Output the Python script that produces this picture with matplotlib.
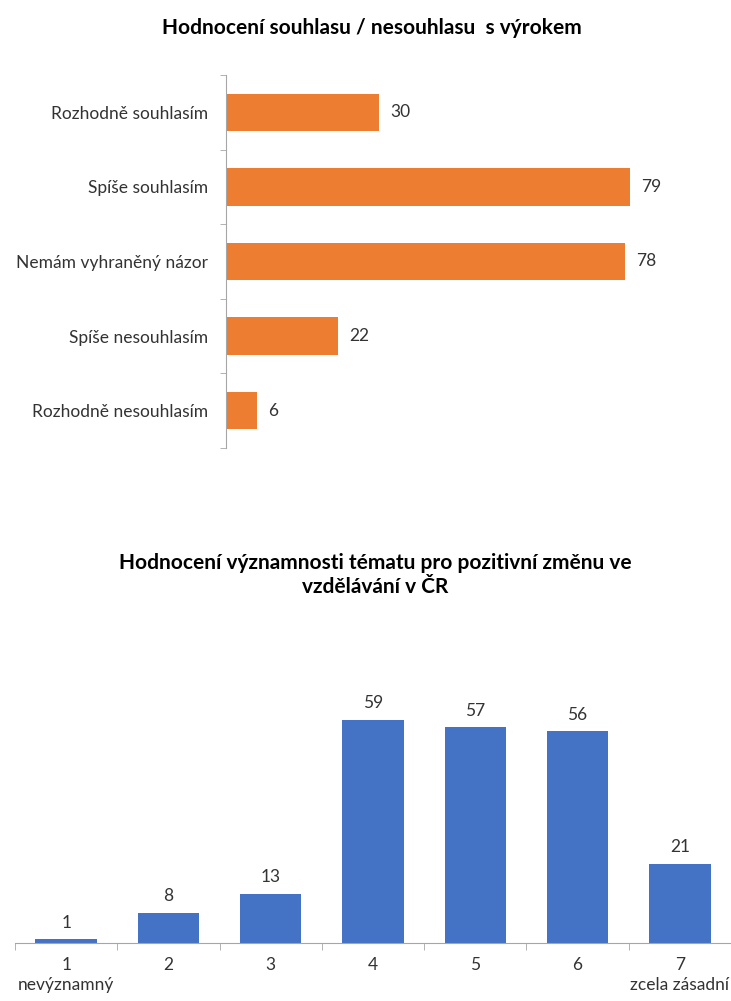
import matplotlib
matplotlib.use("Agg")
import matplotlib.pyplot as plt
import numpy as np

plt.rcParams['font.family'] = ['Lato', 'DejaVu Sans']

# top chart: agreement with the statement
agree_labels = ["Rozhodně souhlasím", "Spíše souhlasím", "Nemám vyhraněný názor",
                "Spíše nesouhlasím", "Rozhodně nesouhlasím"]
agree_counts = [30, 79, 78, 22, 6]

# bottom chart: importance rating 1..7
rating_ticks = ["1\nnevýznamný", "2", "3", "4", "5", "6", "7\nzcela zásadní"]
rating_counts = [1, 8, 13, 59, 57, 56, 21]

ORANGE = '#ED7D31'
BLUE = '#4472C4'
AXIS_GREY = '#A6A6A6'
TEXT = '#333333'
FS = 12.5
TITLE_FS = 15

W, H = 731, 1001
fig = plt.figure(figsize=(W / 100, H / 100), dpi=100)

def frac(x0, y0, x1, y1):
    """pixel box (top-left origin) -> figure fraction rect"""
    return [x0 / W, 1 - y1 / H, (x1 - x0) / W, (y1 - y0) / H]

# ---- top chart ----
ax1 = fig.add_axes(frac(226, 75, 686, 448))
ypos = np.arange(len(agree_labels))
ax1.barh(ypos, agree_counts, height=0.5, color=ORANGE)
ax1.set_xlim(0, 90)
ax1.set_ylim(len(agree_labels) - 0.5, -0.5)
ax1.set_yticks(ypos)
ax1.set_yticklabels(agree_labels, fontsize=FS, color=TEXT)
ax1.set_yticks(np.arange(-0.5, len(agree_labels)), minor=True)
ax1.tick_params(axis='y', which='major', length=0, pad=13)
ax1.tick_params(axis='y', which='minor', length=4, color=AXIS_GREY, direction='out')
ax1.set_xticks([])
for s in ['top', 'right', 'bottom']:
    ax1.spines[s].set_visible(False)
ax1.spines['left'].set_color(AXIS_GREY)
for y, v in zip(ypos, agree_counts):
    ax1.annotate(str(v), (v, y), xytext=(8, 0), textcoords='offset points',
                 ha='left', va='center', fontsize=FS, color=TEXT)

fig.text(372 / W, 1 - 28 / H, "Hodnocení souhlasu / nesouhlasu  s výrokem",
         ha='center', va='center', fontsize=TITLE_FS, fontweight='bold', color='black')

# ---- bottom chart ----
ax2 = fig.add_axes(frac(15, 678, 731, 943))
xpos = np.arange(len(rating_counts))
ax2.bar(xpos, rating_counts, width=0.6, color=BLUE)
ax2.set_xlim(-0.5, len(rating_counts) - 0.5)
ax2.set_ylim(0, 70)
ax2.set_xticks(xpos)
ax2.set_xticklabels(rating_ticks, fontsize=FS, color=TEXT, linespacing=1.3, va='top')
ax2.set_xticks(np.arange(-0.5, len(rating_counts)), minor=True)
ax2.tick_params(axis='x', which='major', length=0, pad=10)
ax2.tick_params(axis='x', which='minor', length=5, color=AXIS_GREY, direction='out')
ax2.set_yticks([])
for s in ['top', 'right', 'left']:
    ax2.spines[s].set_visible(False)
ax2.spines['bottom'].set_color(AXIS_GREY)
for x, v in zip(xpos, rating_counts):
    ax2.annotate(str(v), (x, v), xytext=(0, 6), textcoords='offset points',
                 ha='center', va='bottom', fontsize=FS, color=TEXT)

fig.text(375 / W, 1 - 575 / H,
         "Hodnocení významnosti tématu pro pozitivní změnu ve\nvzdělávání v ČR",
         ha='center', va='center', fontsize=TITLE_FS, fontweight='bold', color='black',
         linespacing=1.3)

fig.savefig("out.png", dpi=100)
